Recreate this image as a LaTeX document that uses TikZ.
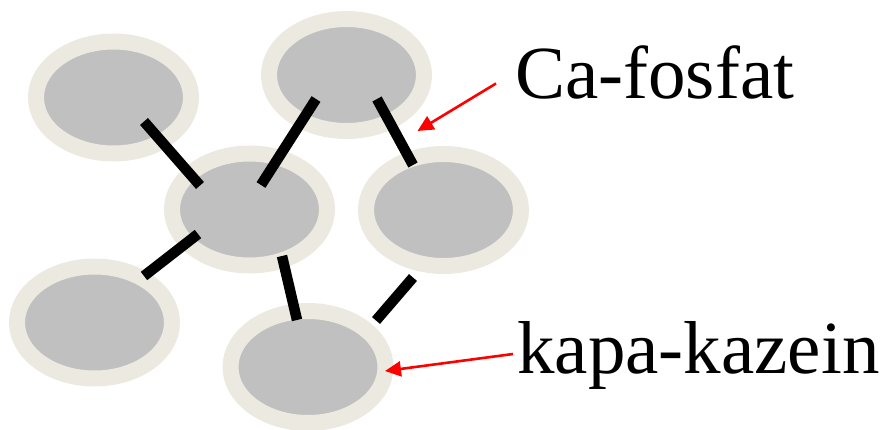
\documentclass[tikz,border=0pt]{standalone}
\usepackage{fontspec}
\setmainfont{Liberation Serif}
\usetikzlibrary{shapes.geometric,arrows.meta}
\definecolor{ringc}{RGB}{236,234,224}
\definecolor{corec}{RGB}{192,192,192}
\tikzset{
  blob/.style={ellipse, draw=ringc, line width=16pt, fill=corec,
    minimum width=155pt, minimum height=112pt, inner sep=0pt},
  bond/.style={line width=10.5pt, black},
  pointer/.style={draw=red, line width=2.6pt, -{Triangle[length=16pt,width=15pt]}},
  lbl/.style={anchor=base west, inner sep=0pt, font=\fontsize{75}{82}\selectfont}
}
\begin{document}
\begin{tikzpicture}[x=1pt,y=-1pt]
\useasboundingbox (0,0) rectangle (883,429);
% ellipses
\node[blob] (tl) at (113.5,97.5) {};
\node[blob] (tm) at (346.5,75) {};
\node[blob] (c)  at (249.5,209.5) {};
\node[blob] (r)  at (443.5,210) {};
\node[blob] (bl) at (94.5,322.5) {};
\node[blob] (bm) at (308,367) {};
% bond end points
\coordinate (b1a) at (144,121.5);
\coordinate (b1b) at (200,185.5);
\coordinate (b2a) at (261,185);
\coordinate (b2b) at (316,99);
\coordinate (b3a) at (377,99);
\coordinate (b3b) at (413,165);
\coordinate (b4a) at (198,234);
\coordinate (b4b) at (144,276);
\coordinate (b5a) at (282,256);
\coordinate (b5b) at (297,320);
\coordinate (b6a) at (413,277.5);
\coordinate (b6b) at (376,320.5);
\draw[bond] (b1a) -- (b1b);
\draw[bond] (b2a) -- (b2b);
\draw[bond] (b3a) -- (b3b);
\draw[bond] (b4a) -- (b4b);
\draw[bond] (b5a) -- (b5b);
\draw[bond] (b6a) -- (b6b);
% labels
\node[lbl] (ca) at (515,98) {Ca-fosfat};
\node[lbl] (ka) at (517,373) {kapa-kazein};
\coordinate (a1s) at (496,83.5);
\coordinate (a1e) at (417.5,131);
\coordinate (a2s) at (513,354);
\coordinate (a2e) at (385,371);
\draw[pointer] (a1s) -- (a1e);
\draw[pointer] (a2s) -- (a2e);
\end{tikzpicture}
\end{document}
